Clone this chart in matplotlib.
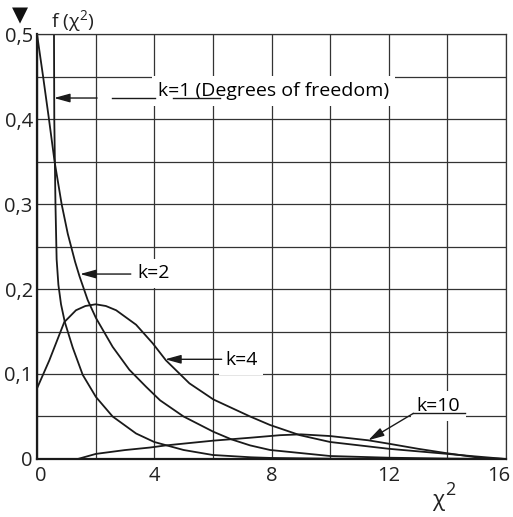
import matplotlib
matplotlib.use('Agg')
import matplotlib.pyplot as plt
from matplotlib.transforms import ScaledTranslation

plt.rcParams['font.family'] = ['Open Sans', 'DejaVu Sans']

# curves (chi-square densities)
x_k1 = [0.58, 0.59, 0.63, 0.67, 0.73, 0.82, 0.95, 1.22, 1.56, 2.01, 2.58, 3.38, 4.0, 5.0, 6.0, 7.3, 8.0, 10.0, 12.0, 16.0]
y_k1 = [0.500, 0.400, 0.300, 0.235, 0.205, 0.182, 0.161, 0.131, 0.099, 0.073, 0.050, 0.030, 0.020, 0.0106, 0.0047, 0.002, 0.0012, 0.0004, 0.0, 0.0]

x_k2 = [0.0, 0.2, 0.4, 0.6, 0.84, 1.05, 1.30, 1.45, 1.73, 2.01, 2.58, 3.15, 3.72, 4.2, 5.0, 6.02, 6.64, 7.27, 7.95, 10.0, 12.0, 14.0, 16.0]
y_k2 = [0.500, 0.452, 0.402, 0.350, 0.300, 0.265, 0.232, 0.215, 0.187, 0.166, 0.132, 0.105, 0.085, 0.069, 0.050, 0.032, 0.023, 0.016, 0.0106, 0.0035, 0.0015, 0.0005, 0.0]

x_k4 = [0.0, 0.42, 0.93, 1.33, 1.65, 2.0, 2.35, 2.7, 3.38, 3.95, 4.4, 5.2, 6.02, 7.27, 7.95, 8.97, 10.0, 12.0, 14.0, 14.8, 16.0]
y_k4 = [0.083, 0.116, 0.161, 0.175, 0.180, 0.182, 0.180, 0.175, 0.158, 0.136, 0.116, 0.089, 0.070, 0.050, 0.040, 0.028, 0.020, 0.012, 0.006, 0.0035, 0.0]

x_k10 = [1.39, 2.01, 3.0, 3.86, 4.4, 6.02, 7.27, 8.29, 9.0, 10.0, 11.3, 12.0, 13.0, 14.0, 15.2, 16.0]
y_k10 = [0.0, 0.006, 0.0105, 0.0135, 0.016, 0.0216, 0.025, 0.028, 0.029, 0.027, 0.022, 0.018, 0.012, 0.0067, 0.001, 0.0]

x_ticks = [0, 4, 8, 12, 16]
x_labels = ['0', '4', '8', '12', '16']
y_ticks = [0, 0.1, 0.2, 0.3, 0.4, 0.5]
y_labels = ['0', '0,1', '0,2', '0,3', '0,4', '0,5']

fig = plt.figure(figsize=(5.13, 5.17), dpi=100)
ax = fig.add_axes([0.0721, 0.1122, 0.9143, 0.822])

for xs, ys in [(x_k1, y_k1), (x_k2, y_k2), (x_k4, y_k4), (x_k10, y_k10)]:
    ax.plot(xs, ys, color='#1a1a1a', lw=1.3, solid_capstyle='butt')

ax.set_xlim(0, 16)
ax.set_ylim(0, 0.5)
ax.set_xticks(x_ticks)
ax.set_xticklabels(x_labels)
ax.set_xticks([2, 6, 10, 14], minor=True)
ax.set_yticks(y_ticks)
ax.set_yticklabels(y_labels)
ax.set_yticks([0.05, 0.15, 0.25, 0.35, 0.45], minor=True)
ax.tick_params(which='both', length=0, labelsize=14.5, colors='#222222')
ax.tick_params(axis='x', pad=5)
ax.tick_params(axis='y', pad=3)
ax.set_axisbelow(True)
ax.grid(which='both', color='#333333', lw=0.9)
for side in ['top', 'right']:
    ax.spines[side].set_linewidth(0.9)
    ax.spines[side].set_color('#333333')
for side in ['left', 'bottom']:
    ax.spines[side].set_linewidth(1.6)
    ax.spines[side].set_color('#1a1a1a')

# nudge the first and last x labels like in the original
xl = ax.get_xticklabels()
xl[0].set_transform(xl[0].get_transform() + ScaledTranslation(4 / 100, 0, fig.dpi_scale_trans))
xl[-1].set_transform(xl[-1].get_transform() + ScaledTranslation(-7 / 100, 0, fig.dpi_scale_trans))

arrow = dict(arrowstyle='-|>,head_length=0.8,head_width=0.22', color='#1a1a1a',
             lw=1.0, shrinkA=0, shrinkB=0, mutation_scale=12)
box = dict(boxstyle='square,pad=0.3', facecolor='white', edgecolor='none')

# k=1
ax.text(4.13, 0.427, 'k=1 (Degrees of freedom)', fontsize=14, va='baseline', bbox=box, zorder=4)
ax.annotate('', xy=(0.58, 0.4247), xytext=(2.05, 0.4247), arrowprops=arrow, zorder=5)
ax.plot([2.56, 4.03], [0.4247, 0.4247], color='#1a1a1a', lw=1.0, zorder=5)
ax.plot([4.64, 6.24], [0.4247, 0.4247], color='#1a1a1a', lw=1.0, zorder=5)

# k=2
ax.text(3.42, 0.2125, 'k=2', fontsize=14, va='baseline', bbox=box, zorder=4)
ax.annotate('', xy=(1.47, 0.2176), xytext=(3.2, 0.2176), arrowprops=arrow, zorder=5)

# k=4
ax.text(6.42, 0.1106, 'k=4', fontsize=14, va='baseline', bbox=box, zorder=4)
ax.annotate('', xy=(4.37, 0.1173), xytext=(6.3, 0.1173), arrowprops=arrow, zorder=5)

# k=10
ax.text(12.95, 0.0565, 'k=10', fontsize=14, va='baseline', bbox=box, zorder=4)
ax.plot([12.84, 14.6], [0.0537, 0.0537], color='#1a1a1a', lw=1.0, zorder=5)
ax.annotate('', xy=(11.3, 0.022), xytext=(12.84, 0.0537), arrowprops=arrow, zorder=5)

# axis titles (superscript via mathtext in the same font)
plt.rcParams['mathtext.fontset'] = 'custom'
plt.rcParams['mathtext.rm'] = 'Open Sans'
plt.rcParams['mathtext.it'] = 'Open Sans'
plt.rcParams['mathtext.default'] = 'regular'
fig.text(0.039, 0.969, '\u25bc', fontsize=15, ha='center', va='center', color='#111111')
fig.text(0.100, 0.948, 'f (\u03c7$^{2}$)', fontsize=14, va='baseline', color='#222222')
fig.text(0.842, 0.022, '\u03c7', fontsize=16, va='baseline', color='#222222')
fig.text(0.868, 0.043, '2', fontsize=13, va='baseline', color='#222222')

fig.savefig('out.png', dpi=100)
